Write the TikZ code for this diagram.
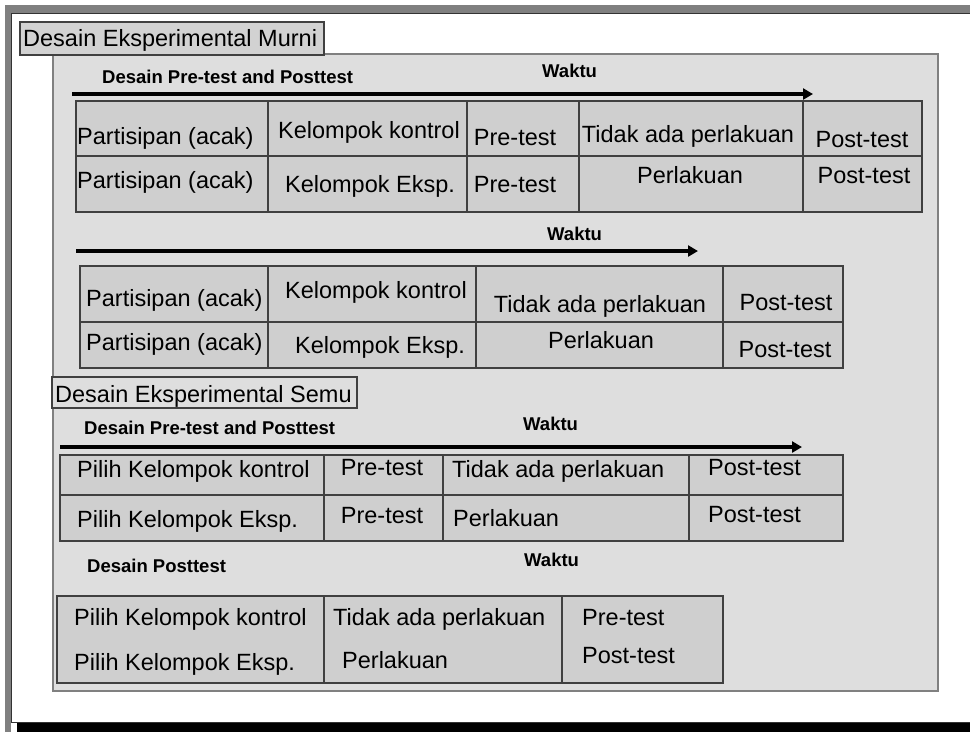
\documentclass[tikz,border=0pt]{standalone}
\usepackage{fontspec}
\setmainfont{Liberation Sans}
\usetikzlibrary{arrows.meta}
\definecolor{panelgray}{gray}{0.87}
\definecolor{cellgray}{gray}{0.81}
\definecolor{framegray}{gray}{0.5}
\tikzset{
  celltxt/.style={inner sep=0pt, font=\fontsize{23.5}{28}\selectfont, anchor=base west},
  midtxt/.style={celltxt, anchor=base},
  headtxt/.style={inner sep=0pt, font=\fontsize{18.5}{22}\selectfont\bfseries, anchor=base west},
  grid/.style={draw=black!75, line width=2pt},
  timeline/.style={line width=3.5pt, -{Triangle[length=10pt,width=11pt]}},
  titlebox/.style={draw=black!75, line width=1.3pt},
}

\begin{document}
\begin{tikzpicture}[x=1pt, y=-1pt]
  \useasboundingbox (0,0) rectangle (970,732);
  \fill[white] (0,0) rectangle (970,732);
  \fill[framegray] (5,5) rectangle (970,13);
  \fill[framegray] (5,5) rectangle (11,732);
  \fill[black] (17,723) rectangle (970,731.5);
  \draw[black!80, line width=1pt] (970,13.5) -- (11.5,13.5) -- (11.5,722.5) -- (970,722.5);
  \draw[fill=panelgray, draw=gray, line width=2pt] (53,54) rectangle (938,691);

  \draw[titlebox, fill=cellgray!80!panelgray] (20,22) rectangle (324,55);
  \node[celltxt] (murni) at (23,46) {Desain Eksperimental Murni};

  \node[headtxt] (h1) at (102,83) {Desain Pre-test and Posttest};
  \node[headtxt] (w1) at (542,77) {Waktu};
  \coordinate (a1s) at (72,94);
  \coordinate (a1e) at (813,94);
  \draw[timeline] (a1s) -- (a1e);
  \draw[grid, fill=cellgray] (76,101) rectangle (922,212);
  \draw[grid] (76,156) -- (922,156);
  \foreach \x in {268,467,579,803} \draw[grid] (\x,101) -- (\x,212);
  \node[celltxt] (p1a) at (77,144) {Partisipan (acak)};
  \node[midtxt] (k1a) at (369,138) {Kelompok kontrol};
  \node[midtxt] (r1a) at (515,145) {Pre-test};
  \node[midtxt] (t1a) at (688,142) {Tidak ada perlakuan};
  \node[midtxt] (o1a) at (862,147) {Post-test};
  \node[celltxt] (p1b) at (77,188) {Partisipan (acak)};
  \node[midtxt] (k1b) at (370,192) {Kelompok Eksp.};
  \node[midtxt] (r1b) at (515,192) {Pre-test};
  \node[midtxt] (t1b) at (690,183) {Perlakuan};
  \node[midtxt] (o1b) at (864,183) {Post-test};

  \node[headtxt] (w2) at (547,240) {Waktu};
  \coordinate (a2s) at (76,251);
  \coordinate (a2e) at (698,251);
  \draw[timeline] (a2s) -- (a2e);
  \draw[grid, fill=cellgray] (80,266) rectangle (843,368);
  \draw[grid] (80,322) -- (843,322);
  \foreach \x in {268,476,723} \draw[grid] (\x,266) -- (\x,368);
  \node[celltxt] (p2a) at (86,306) {Partisipan (acak)};
  \node[midtxt] (k2a) at (376,298) {Kelompok kontrol};
  \node[midtxt] (t2a) at (600,312) {Tidak ada perlakuan};
  \node[midtxt] (o2a) at (786,310) {Post-test};
  \node[celltxt] (p2b) at (86,350) {Partisipan (acak)};
  \node[midtxt] (k2b) at (380,353) {Kelompok Eksp.};
  \node[midtxt] (t2b) at (601,348) {Perlakuan};
  \node[midtxt] (o2b) at (785,357) {Post-test};

  \draw[titlebox, fill=panelgray] (52,377) rectangle (357,408);
  \node[celltxt] (semu) at (55,402) {Desain Eksperimental Semu};

  \node[headtxt] (h3) at (84,434) {Desain Pre-test and Posttest};
  \node[headtxt] (w3) at (523,430) {Waktu};
  \coordinate (a3s) at (60,447);
  \coordinate (a3e) at (802,447);
  \draw[timeline] (a3s) -- (a3e);
  \draw[grid, fill=cellgray] (60,455) rectangle (843,541);
  \draw[grid] (60,495) -- (843,495);
  \foreach \x in {324,443,689} \draw[grid] (\x,455) -- (\x,541);
  \node[celltxt] (s3a) at (77,477) {Pilih Kelompok kontrol};
  \node[midtxt] (r3a) at (382,475) {Pre-test};
  \node[celltxt] (t3a) at (452,477) {Tidak ada perlakuan};
  \node[celltxt] (o3a) at (708,475) {Post-test};
  \node[celltxt] (s3b) at (77,527) {Pilih Kelompok Eksp.};
  \node[midtxt] (r3b) at (382,523) {Pre-test};
  \node[celltxt] (t3b) at (453,526) {Perlakuan};
  \node[celltxt] (o3b) at (708,522) {Post-test};

  \node[headtxt] (h4) at (87,572) {Desain Posttest};
  \node[headtxt] (w4) at (524,566) {Waktu};
  \draw[grid, fill=cellgray] (57,596) rectangle (723,683);
  \foreach \x in {324,562} \draw[grid] (\x,596) -- (\x,683);
  \node[celltxt] (s4a) at (74,625) {Pilih Kelompok kontrol};
  \node[celltxt] (s4b) at (74,670) {Pilih Kelompok Eksp.};
  \node[celltxt] (t4a) at (333,625) {Tidak ada perlakuan};
  \node[celltxt] (t4b) at (342,668) {Perlakuan};
  \node[celltxt] (r4a) at (582,625) {Pre-test};
  \node[celltxt] (o4a) at (582,663) {Post-test};
\end{tikzpicture}
\end{document}
